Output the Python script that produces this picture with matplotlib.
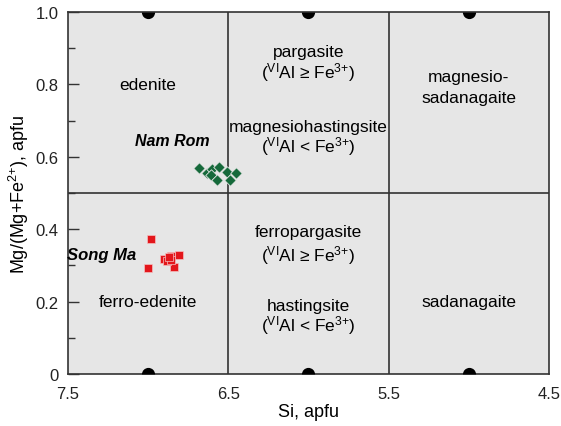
import matplotlib
matplotlib.use('Agg')
import matplotlib.pyplot as plt

plt.rcParams['font.family'] = ['Liberation Sans', 'DejaVu Sans']
plt.rcParams['mathtext.fontset'] = 'custom'
plt.rcParams['mathtext.rm'] = 'Liberation Sans'
plt.rcParams['mathtext.it'] = 'Liberation Sans:italic'
plt.rcParams['mathtext.bf'] = 'Liberation Sans:bold'

# Nam Rom samples (Si, Mg/(Mg+Fe2+))
namrom_si = [6.68, 6.63, 6.60, 6.56, 6.61, 6.57, 6.51, 6.45, 6.49]
namrom_mg = [0.569, 0.555, 0.565, 0.572, 0.551, 0.537, 0.558, 0.555, 0.537]

# Song Ma samples
songma_si = [6.98, 7.00, 6.86, 6.81, 6.84, 6.90, 6.88, 6.86, 6.87]
songma_mg = [0.373, 0.294, 0.327, 0.329, 0.296, 0.319, 0.313, 0.315, 0.322]

# boundary dots on top and bottom edges
top_si = [7.0, 6.0, 5.0]
top_mg = [1.0, 1.0, 1.0]
bot_si = [7.0, 6.0, 5.0]
bot_mg = [0.0, 0.0, 0.0]

sup_ge = '($^{\\mathrm{VI}}$Al \u2265 Fe$^{3{+}}$)'
sup_lt = '($^{\\mathrm{VI}}$Al < Fe$^{3{+}}$)'

fig = plt.figure(figsize=(5.61, 4.27), dpi=100)
ax = fig.add_axes([0.1212, 0.1218, 0.8574, 0.8478])
ax.set_facecolor('#e6e6e6')

lc = '#333333'
ax.axvline(6.5, color=lc, lw=1.2)
ax.axvline(5.5, color=lc, lw=1.2)
ax.axhline(0.5, color=lc, lw=1.2)

# half dots (only the part inside the frame)
ax.plot(top_si, top_mg, 'o', color='black', markersize=9.5, fillstyle='bottom',
        markerfacecoloralt='none', markeredgewidth=0, linestyle='none', zorder=3)
ax.plot(bot_si, bot_mg, 'o', color='black', markersize=9.5, fillstyle='top',
        markerfacecoloralt='none', markeredgewidth=0, linestyle='none', zorder=3)

ax.scatter(namrom_si, namrom_mg, marker='D', s=34, color='#15693a',
           edgecolors='#e6e6e6', linewidths=0.6, zorder=4)
ax.scatter(songma_si, songma_mg, marker='s', s=30, color='#e3161b',
           edgecolors='#f4c0c0', linewidths=0.5, zorder=4)

fs = 12.5
ax.text(7.0, 0.80, 'edenite', ha='center', va='center', fontsize=fs)
ax.text(6.0, 0.892, 'pargasite', ha='center', va='center', fontsize=fs)
ax.text(6.0, 0.836, sup_ge, ha='center', va='center', fontsize=fs)
ax.text(6.0, 0.683, 'magnesiohastingsite', ha='center', va='center', fontsize=fs)
ax.text(6.0, 0.632, sup_lt, ha='center', va='center', fontsize=fs)
ax.text(5.0, 0.823, 'magnesio-', ha='center', va='center', fontsize=fs)
ax.text(5.0, 0.765, 'sadanagaite', ha='center', va='center', fontsize=fs)
ax.text(7.0, 0.20, 'ferro-edenite', ha='center', va='center', fontsize=fs)
ax.text(6.0, 0.393, 'ferropargasite', ha='center', va='center', fontsize=fs)
ax.text(6.0, 0.331, sup_ge, ha='center', va='center', fontsize=fs)
ax.text(6.0, 0.19, 'hastingsite', ha='center', va='center', fontsize=fs)
ax.text(6.0, 0.137, sup_lt, ha='center', va='center', fontsize=fs)
ax.text(5.0, 0.20, 'sadanagaite', ha='center', va='center', fontsize=fs)

ax.text(6.85, 0.644, 'Nam Rom', ha='center', va='center', fontsize=11.5,
        fontweight='bold', fontstyle='italic')
ax.text(7.29, 0.329, 'Song Ma', ha='center', va='center', fontsize=12,
        fontweight='bold', fontstyle='italic')

ax.set_xlim(7.5, 4.5)
ax.set_ylim(0, 1)
ax.set_xticks([7.5, 6.5, 5.5, 4.5])
ax.set_xticklabels(['7.5', '6.5', '5.5', '4.5'])
ax.set_yticks([0, 0.2, 0.4, 0.6, 0.8, 1.0])
ax.set_yticklabels(['0', '0.2', '0.4', '0.6', '0.8', '1.0'])
ax.set_yticks([0.1, 0.3, 0.5, 0.7, 0.9], minor=True)
ax.tick_params(axis='x', length=0, pad=9, labelsize=12, labelcolor='#222222')
ax.tick_params(axis='y', which='major', direction='in', length=8, width=1,
               pad=7, labelsize=12, labelcolor='#222222', color=lc)
ax.tick_params(axis='y', which='minor', direction='in', length=5, width=1, color=lc)

for s in ax.spines.values():
    s.set_color(lc)
    s.set_linewidth(1.2)

ax.set_xlabel('Si, apfu', fontsize=13, labelpad=1)
ax.set_ylabel('Mg/(Mg+Fe$^{2{+}}$), apfu', fontsize=13, labelpad=3)

fig.savefig('out.png', dpi=100)
